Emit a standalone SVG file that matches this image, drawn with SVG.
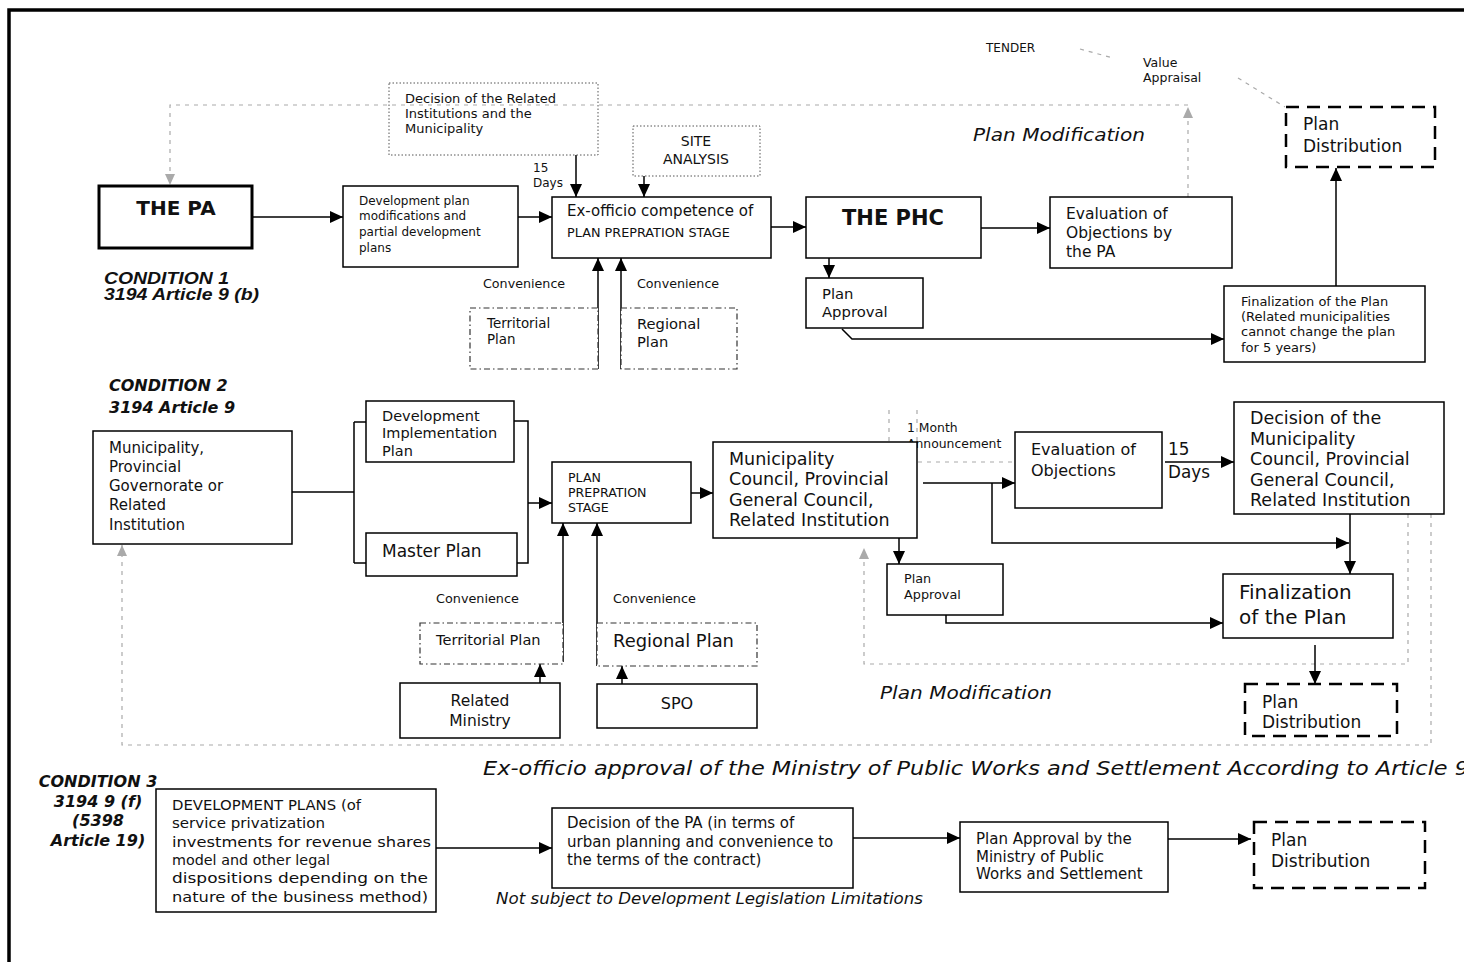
<svg xmlns="http://www.w3.org/2000/svg" width="1464" height="962" viewBox="0 0 1464 962">
<defs>
<style>
.bg{fill:#fff}
.box{fill:#fff;stroke:#000;stroke-width:1.5}
.thick{stroke-width:3}
.dotbox{fill:none;stroke:#555;stroke-width:1;stroke-dasharray:1.5,2}
.dashdot{fill:#fff;stroke:#333;stroke-width:1.2;stroke-dasharray:6,3,1.5,3}
.dashbox{fill:#fff;stroke:#000;stroke-width:2.5;stroke-dasharray:13,8}
.t{font-family:"DejaVu Sans",Verdana,sans-serif;fill:#111}
.b{font-weight:bold}
.i{font-style:italic}
.cond{font-family:"DejaVu Sans",Verdana,sans-serif;font-weight:bold;font-style:italic;fill:#111;font-size:16px}
.cond1{font-family:"Liberation Sans",Arial,sans-serif;font-weight:bold;font-style:italic;fill:#111;font-size:16.5px}
.mid{text-anchor:middle}
.conn{fill:none;stroke:#000;stroke-width:1.5}
.arr{marker-end:url(#ah)}
.gray{fill:none;stroke:#aaa;stroke-width:1.2;stroke-dasharray:4,5}
.garr{marker-end:url(#gh)}
</style>
<marker id="ah" markerUnits="userSpaceOnUse" markerWidth="13" markerHeight="12" refX="13" refY="6" orient="auto"><path d="M0,0 L13,6 L0,12 z" fill="#000"/></marker>
<marker id="gh" markerUnits="userSpaceOnUse" markerWidth="11" markerHeight="10" refX="11" refY="5" orient="auto"><path d="M0,0 L11,5 L0,10 z" fill="#aaa"/></marker>
</defs>
<rect class="bg" x="0" y="0" width="1464" height="962"/>
<path d="M9,962 V10 H1464" fill="none" stroke="#000" stroke-width="3.5"/>

<g id="connectors">
<!-- condition 1 -->
<path class="gray garr" d="M1188,197 V107"/>
<path class="gray garr" d="M1188,105 H170 V185"/>
<path class="gray" d="M1080,49 L1113,58"/>
<path class="gray" d="M1238,78 L1285,107"/>
<path class="conn arr" d="M252,217 H343"/>
<path class="conn arr" d="M518,217 H552"/>
<path class="conn arr" d="M576,155 V197"/>
<path class="conn arr" d="M644,176 V197"/>
<path class="conn arr" d="M771,227 H806"/>
<path class="conn arr" d="M981,228 H1050"/>
<path class="conn arr" d="M829,258 V278"/>
<path class="conn arr" d="M842,329 L852,339 H1224"/>
<path class="conn arr" d="M1336,286 V168"/>
<path class="conn arr" d="M598,369 V258"/>
<path class="conn arr" d="M621,369 V258"/>
<!-- condition 2 -->
<path class="gray garr" d="M1408,514 V664 H864 V548"/>
<path class="gray garr" d="M1431,514 V745 H122 V545"/>
<path class="gray" d="M889,410 V462 H1015 M917,410 V442" stroke-dasharray="1.5,4"/>
<path class="conn" d="M292,492 H354 M354,422 V563 M354,422 H366 M354,563 H366"/>
<path class="conn" d="M514,421 H528 V563 H517"/>
<path class="conn arr" d="M528,503 H552"/>
<path class="conn arr" d="M691,493 H713"/>
<path class="conn arr" d="M923,483 H1015"/>
<path class="conn arr" d="M992,483 V543 H1349"/>
<path class="conn arr" d="M1165,462 H1234"/>
<path class="conn arr" d="M1350,514 V574"/>
<path class="conn arr" d="M899,538 V564"/>
<path class="conn arr" d="M946,603 V623 H1223"/>
<path class="conn arr" d="M1315,645 V684"/>
<path class="conn arr" d="M563,662 V523"/>
<path class="conn arr" d="M597,666 V523"/>
<path class="conn arr" d="M540,683 V664"/>
<path class="conn arr" d="M622,684 V666"/>
<!-- condition 3 -->
<path class="conn arr" d="M436,848 H552"/>
<path class="conn arr" d="M853,838 H960"/>
<path class="conn arr" d="M1168,839 H1251"/>
</g>

<!-- labels -->
<g id="labels">
<text class="cond1" x="104" y="284" textLength="125" lengthAdjust="spacingAndGlyphs">CONDITION 1</text>
<text class="cond1" x="104" y="300" textLength="155" lengthAdjust="spacingAndGlyphs">3194 Article 9 (b)</text>
<text class="t i" x="973" y="141" font-size="18" textLength="172" lengthAdjust="spacingAndGlyphs">Plan Modification</text>
<text class="t" x="986" y="52" font-size="12">TENDER</text>
<text class="t" x="1143" y="66.5" font-size="12.5">Value</text>
<text class="t" x="1143" y="81.5" font-size="12.5">Appraisal</text>
<text class="t" x="533" y="172" font-size="12">15</text>
<text class="t" x="533" y="187" font-size="12">Days</text>
<text class="t" x="483" y="287.5" font-size="12.7">Convenience</text>
<text class="t" x="637" y="287.5" font-size="12.7">Convenience</text>

<text class="cond" x="109" y="391">CONDITION 2</text>
<text class="cond" x="109" y="413" font-size="16.5">3194 Article 9</text>
<text class="t" x="907" y="431.5" font-size="12.4">1 Month</text>
<text class="t" x="907" y="447.5" font-size="12.4">Announcement</text>
<text class="t" x="1168" y="455" font-size="16.8">15</text>
<text class="t" x="1168" y="478" font-size="16.8">Days</text>
<text class="t" x="436" y="602.5" font-size="12.8">Convenience</text>
<text class="t" x="613" y="602.5" font-size="12.8">Convenience</text>
<text class="t i" x="880" y="699" font-size="18" textLength="172" lengthAdjust="spacingAndGlyphs">Plan Modification</text>
<text class="t i" x="483" y="775" font-size="19" textLength="986" lengthAdjust="spacingAndGlyphs">Ex-officio approval of the Ministry of Public Works and Settlement According to Article 9</text>

<text class="cond mid" x="98" y="787">CONDITION 3</text>
<text class="cond mid" x="98" y="807">3194 9 (f)</text>
<text class="cond mid" x="98" y="826">(5398</text>
<text class="cond mid" x="98" y="846">Article 19)</text>
<text class="t i" x="496" y="904" font-size="16" textLength="427" lengthAdjust="spacingAndGlyphs">Not subject to Development Legislation Limitations</text>
</g>

<!-- condition 1 nodes -->
<g id="the-pa">
<rect class="box thick" x="99" y="186" width="153" height="62"/>
<text class="t b mid" x="176" y="215" font-size="20">THE PA</text>
</g>
<g id="dev-plan-mod">
<rect class="box" x="343" y="186" width="175" height="81"/>
<text class="t" x="359" y="205" font-size="12">Development plan</text>
<text class="t" x="359" y="220" font-size="12">modifications and</text>
<text class="t" x="359" y="236" font-size="12">partial development</text>
<text class="t" x="359" y="252" font-size="12">plans</text>
</g>
<g id="decision-related">
<rect class="dotbox" x="389" y="83" width="209" height="72"/>
<text class="t" x="405" y="103" font-size="13">Decision of the Related</text>
<text class="t" x="405" y="118" font-size="13">Institutions and the</text>
<text class="t" x="405" y="133" font-size="13">Municipality</text>
</g>
<g id="site-analysis">
<rect class="dotbox" x="633" y="126" width="127" height="50"/>
<text class="t mid" x="696" y="146" font-size="14">SITE</text>
<text class="t mid" x="696" y="164" font-size="14">ANALYSIS</text>
</g>
<g id="ex-officio">
<rect class="box" x="552" y="197" width="219" height="61"/>
<text class="t" x="567" y="216" font-size="15">Ex-officio competence of</text>
<text class="t" x="567" y="237" font-size="12.8">PLAN PREPRATION STAGE</text>
</g>
<g id="the-phc">
<rect class="box" x="806" y="197" width="175" height="61"/>
<text class="t b mid" x="893" y="224.5" font-size="21">THE PHC</text>
</g>
<g id="eval-obj-pa">
<rect class="box" x="1050" y="197" width="182" height="71"/>
<text class="t" x="1066" y="218.5" font-size="15.5">Evaluation of</text>
<text class="t" x="1066" y="237.5" font-size="15.5">Objections by</text>
<text class="t" x="1066" y="256.5" font-size="15.5">the PA</text>
</g>
<g id="plan-approval-1">
<rect class="box" x="806" y="278" width="117" height="50"/>
<text class="t" x="822" y="299" font-size="14.8">Plan</text>
<text class="t" x="822" y="317" font-size="14.8">Approval</text>
</g>
<g id="finalization-1">
<rect class="box" x="1224" y="286" width="201" height="76"/>
<text class="t" x="1241" y="306" font-size="13">Finalization of the Plan</text>
<text class="t" x="1241" y="321" font-size="13">(Related municipalities</text>
<text class="t" x="1241" y="336" font-size="13">cannot change the plan</text>
<text class="t" x="1241" y="352" font-size="13">for 5 years)</text>
</g>
<g id="plan-dist-1">
<rect class="dashbox" x="1286" y="107" width="149" height="60"/>
<text class="t" x="1303" y="130" font-size="17">Plan</text>
<text class="t" x="1303" y="152" font-size="17">Distribution</text>
</g>
<g id="territorial-1">
<rect class="dashdot" x="470" y="308" width="128" height="61"/>
<text class="t" x="487" y="328" font-size="13.4">Territorial</text>
<text class="t" x="487" y="344" font-size="13.4">Plan</text>
</g>
<g id="regional-1">
<rect class="dashdot" x="621" y="308" width="116" height="61"/>
<text class="t" x="637" y="329" font-size="14.7">Regional</text>
<text class="t" x="637" y="347" font-size="14.7">Plan</text>
</g>

<!-- condition 2 nodes -->
<g id="municipality">
<rect class="box" x="93" y="431" width="199" height="113"/>
<text class="t" x="109" y="453" font-size="15">Municipality,</text>
<text class="t" x="109" y="472" font-size="15">Provincial</text>
<text class="t" x="109" y="491" font-size="15">Governorate or</text>
<text class="t" x="109" y="510" font-size="15">Related</text>
<text class="t" x="109" y="530" font-size="15">Institution</text>
</g>
<g id="dev-impl">
<rect class="box" x="366" y="401" width="148" height="61"/>
<text class="t" x="382" y="421" font-size="14.5">Development</text>
<text class="t" x="382" y="438" font-size="14.5">Implementation</text>
<text class="t" x="382" y="456" font-size="14.5">Plan</text>
</g>
<g id="master-plan">
<rect class="box" x="366" y="533" width="151" height="43"/>
<text class="t" x="382" y="557" font-size="17">Master Plan</text>
</g>
<g id="plan-prep">
<rect class="box" x="552" y="462" width="139" height="61"/>
<text class="t" x="568" y="481.5" font-size="12.6">PLAN</text>
<text class="t" x="568" y="496.5" font-size="12.6">PREPRATION</text>
<text class="t" x="568" y="511.5" font-size="12.6">STAGE</text>
</g>
<g id="municipality-council">
<rect class="box" x="713" y="442" width="204" height="96"/>
<text class="t" x="729" y="465" font-size="17.5">Municipality</text>
<text class="t" x="729" y="485" font-size="17.5">Council, Provincial</text>
<text class="t" x="729" y="506" font-size="17.5">General Council,</text>
<text class="t" x="729" y="526" font-size="17.5">Related Institution</text>
</g>
<g id="eval-obj">
<rect class="box" x="1015" y="432" width="147" height="76"/>
<text class="t" x="1031" y="455" font-size="16">Evaluation of</text>
<text class="t" x="1031" y="476" font-size="16">Objections</text>
</g>
<g id="decision-council">
<rect class="box" x="1234" y="402" width="210" height="112"/>
<text class="t" x="1250" y="424" font-size="17.5">Decision of the</text>
<text class="t" x="1250" y="445" font-size="17.5">Municipality</text>
<text class="t" x="1250" y="465" font-size="17.5">Council, Provincial</text>
<text class="t" x="1250" y="486" font-size="17.5">General Council,</text>
<text class="t" x="1250" y="506" font-size="17.5">Related Institution</text>
</g>
<g id="plan-approval-2">
<rect class="box" x="887" y="564" width="116" height="51"/>
<text class="t" x="904" y="582.5" font-size="12.8">Plan</text>
<text class="t" x="904" y="598.5" font-size="12.8">Approval</text>
</g>
<g id="finalization-2">
<rect class="box" x="1223" y="574" width="170" height="64"/>
<text class="t" x="1239" y="599" font-size="20">Finalization</text>
<text class="t" x="1239" y="624" font-size="20">of the Plan</text>
</g>
<g id="plan-dist-2">
<rect class="dashbox" x="1245" y="684" width="152" height="52"/>
<text class="t" x="1262" y="708" font-size="17">Plan</text>
<text class="t" x="1262" y="728" font-size="17">Distribution</text>
</g>
<g id="territorial-2">
<rect class="dashdot" x="420" y="623" width="143" height="41"/>
<text class="t" x="436" y="645" font-size="14.6">Territorial Plan</text>
</g>
<g id="regional-2">
<rect class="dashdot" x="597" y="623" width="160" height="43"/>
<text class="t" x="613" y="647" font-size="17.9">Regional Plan</text>
</g>
<g id="related-ministry">
<rect class="box" x="400" y="683" width="160" height="55"/>
<text class="t mid" x="480" y="705.5" font-size="15.5">Related</text>
<text class="t mid" x="480" y="725.5" font-size="15.5">Ministry</text>
</g>
<g id="spo">
<rect class="box" x="597" y="684" width="160" height="44"/>
<text class="t mid" x="677" y="709" font-size="16">SPO</text>
</g>

<!-- condition 3 nodes -->
<g id="dev-plans-3">
<rect class="box" x="156" y="789" width="280" height="123"/>
<text class="t" x="172" y="810" font-size="13.5" textLength="189" lengthAdjust="spacingAndGlyphs">DEVELOPMENT PLANS (of</text>
<text class="t" x="172" y="828" font-size="13.5" textLength="153" lengthAdjust="spacingAndGlyphs">service privatization</text>
<text class="t" x="172" y="847" font-size="13.5" textLength="259" lengthAdjust="spacingAndGlyphs">investments for revenue shares</text>
<text class="t" x="172" y="865" font-size="13.5" textLength="158" lengthAdjust="spacingAndGlyphs">model and other legal</text>
<text class="t" x="172" y="883" font-size="13.5" textLength="256" lengthAdjust="spacingAndGlyphs">dispositions depending on the</text>
<text class="t" x="172" y="902" font-size="13.5" textLength="256" lengthAdjust="spacingAndGlyphs">nature of the business method)</text>
</g>
<g id="decision-pa">
<rect class="box" x="552" y="808" width="301" height="80"/>
<text class="t" x="567" y="828" font-size="15">Decision of the PA (in terms of</text>
<text class="t" x="567" y="847" font-size="15">urban planning and convenience to</text>
<text class="t" x="567" y="865" font-size="15">the terms of the contract)</text>
</g>
<g id="approval-ministry">
<rect class="box" x="960" y="822" width="208" height="70"/>
<text class="t" x="976" y="844" font-size="15">Plan Approval by the</text>
<text class="t" x="976" y="862" font-size="15">Ministry of Public</text>
<text class="t" x="976" y="879" font-size="15">Works and Settlement</text>
</g>
<g id="plan-dist-3">
<rect class="dashbox" x="1254" y="822" width="171" height="66"/>
<text class="t" x="1271" y="846" font-size="17">Plan</text>
<text class="t" x="1271" y="867" font-size="17">Distribution</text>
</g>
</svg>
